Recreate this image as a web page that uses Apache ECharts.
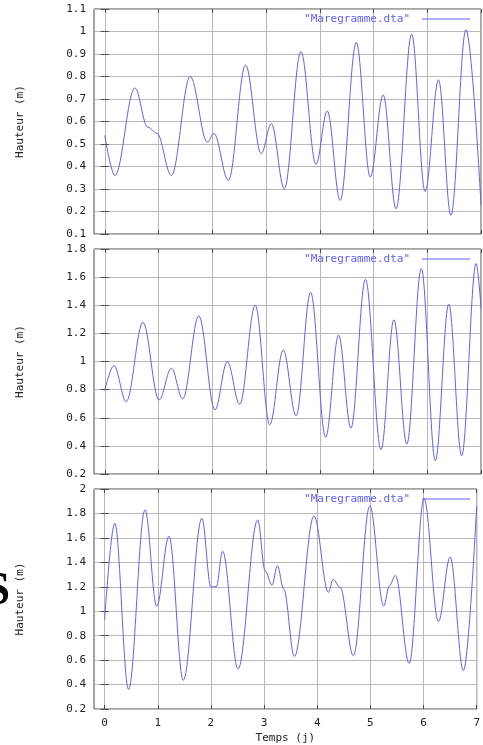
<!DOCTYPE html>
<html>
<head>
<meta charset="utf-8">
<script src="https://cdn.jsdelivr.net/npm/echarts@6/dist/echarts.min.js"></script>
<style>
  html, body { margin: 0; padding: 0; background: #fff; }
  #chart { width: 483px; height: 745px; }
</style>
</head>
<body>
<div id="chart"></div>
<script>
const t1 = [0, 0.19, 0.56, 0.80, 0.97, 1.24, 1.59, 1.91, 2.03, 2.30, 2.62, 2.91, 3.10, 3.34, 3.65, 3.93, 4.14, 4.38, 4.68, 4.94, 5.18, 5.42, 5.71, 5.96, 6.21, 6.44, 6.72, 7.0];
const h1 = [0.538, 0.36, 0.749, 0.575, 0.548, 0.36, 0.80, 0.508, 0.547, 0.338, 0.851, 0.457, 0.59, 0.301, 0.911, 0.41, 0.647, 0.249, 0.951, 0.353, 0.718, 0.212, 0.988, 0.289, 0.785, 0.183, 1.008, 0.23];

const t2 = [0, 0.17, 0.40, 0.71, 1.01, 1.24, 1.45, 1.75, 2.05, 2.28, 2.51, 2.80, 3.07, 3.32, 3.56, 3.83, 4.11, 4.35, 4.58, 4.85, 5.14, 5.38, 5.62, 5.89, 6.15, 6.40, 6.64, 6.91, 7.0];
const h2 = [0.793, 0.971, 0.715, 1.278, 0.727, 0.952, 0.734, 1.325, 0.656, 0.999, 0.696, 1.40, 0.55, 1.082, 0.614, 1.491, 0.462, 1.188, 0.526, 1.585, 0.373, 1.297, 0.413, 1.661, 0.295, 1.408, 0.33, 1.697, 1.38];

const t3 = [0, 0.19, 0.45, 0.76, 0.98, 1.21, 1.48, 1.83, 2.00, 2.10, 2.22, 2.51, 2.88, 3.02, 3.15, 3.25, 3.37, 3.57, 3.94, 4.21, 4.30, 4.43, 4.68, 4.99, 5.25, 5.36, 5.47, 5.73, 6.01, 6.28, 6.50, 6.75, 7.0];
const h3 = [0.93, 1.72, 0.36, 1.83, 1.04, 1.613, 0.435, 1.76, 1.20, 1.20, 1.49, 0.528, 1.747, 1.33, 1.213, 1.373, 1.18, 0.63, 1.78, 1.155, 1.26, 1.195, 0.635, 1.861, 1.043, 1.21, 1.293, 0.573, 1.92, 0.915, 1.443, 0.515, 1.86];

const xTicks = [0, 1, 2, 3, 4, 5, 6, 7];
const yMin = [0.1, 0.2, 0.2];
const yMax = [1.1, 1.8, 2];
const yStep = [0.1, 0.2, 0.2];

const seriesName = '"Maregramme.dta"';
const panels = [[t1, h1], [t2, h2], [t3, h3]];
const gridTops = [9, 249, 489];

const mono = 'DejaVu Sans Mono';
const blue = '#5f5fff';
const frame = '#484848';

const chart = echarts.init(document.getElementById('chart'));

const grid = [], xAxis = [], yAxis = [], series = [], legend = [];
panels.forEach(function (p, i) {
  grid.push({
    left: 94, right: 2, top: gridTops[i], height: 225,
    show: true, borderColor: frame, borderWidth: 1
  });
  const last = i === panels.length - 1;
  // bottom x axis
  xAxis.push({
    type: 'value', gridIndex: i, min: -0.2, max: 7, position: 'bottom',
    axisLine: { show: false },
    axisTick: { show: true, inside: true, length: 4, customValues: xTicks, lineStyle: { color: frame } },
    axisLabel: { show: last, customValues: xTicks, margin: 9, fontFamily: mono, fontSize: 11, color: '#222' },
    splitLine: { show: true, lineStyle: { color: '#b8b8b8', width: 1 } },
    name: last ? 'Temps (j)' : '', nameLocation: 'middle', nameGap: 24,
    nameTextStyle: { fontFamily: mono, fontSize: 11, color: '#222' }
  });
  // mirror ticks on top
  xAxis.push({
    type: 'value', gridIndex: i, min: -0.2, max: 7, position: 'top',
    axisLine: { show: false },
    axisTick: { show: true, inside: true, length: 4, customValues: xTicks, lineStyle: { color: frame } },
    axisLabel: { show: false }, splitLine: { show: false }
  });
  yAxis.push({
    type: 'value', gridIndex: i, min: yMin[i], max: yMax[i], interval: yStep[i], position: 'left',
    axisLine: { show: false },
    axisTick: { show: true, inside: true, length: 4, lineStyle: { color: frame } },
    axisLabel: { margin: 8, fontFamily: mono, fontSize: 11, color: '#222' },
    splitLine: { show: true, lineStyle: { color: '#b8b8b8', width: 1 } },
    name: 'Hauteur (m)', nameLocation: 'middle', nameRotate: 90, nameGap: 68,
    nameTextStyle: { fontFamily: mono, fontSize: 11, color: '#222' }
  });
  yAxis.push({
    type: 'value', gridIndex: i, min: yMin[i], max: yMax[i], interval: yStep[i], position: 'right',
    axisLine: { show: false },
    axisTick: { show: true, inside: true, length: 4, lineStyle: { color: frame } },
    axisLabel: { show: false }, splitLine: { show: false }
  });
  series.push({
    name: seriesName, type: 'line',
    xAxisIndex: i * 2, yAxisIndex: i * 2,
    data: p[0].map(function (t, k) { return [t, p[1][k]]; }),
    showSymbol: false, symbol: 'none',
    smooth: 0.36, smoothMonotone: 'x',
    lineStyle: { color: blue, width: 1 }, itemStyle: { color: blue },
    clip: true
  });
  legend.push({
    data: [seriesName], right: 13, top: gridTops[i] + 4, padding: 0,
    align: 'right', icon: 'rect', itemWidth: 48, itemHeight: 1,
    selectedMode: false,
    textStyle: { fontFamily: mono, fontSize: 11, color: blue, lineHeight: 12, padding: [0, 7, 0, 0] }
  });
});

chart.setOption({
  animation: false,
  backgroundColor: '#fff',
  grid: grid, xAxis: xAxis, yAxis: yAxis, series: series, legend: legend,
  graphic: [{
    type: 'text', x: 10, y: 592,
    style: { text: 'S', font: 'bold 46px "Liberation Serif"', fill: '#000', align: 'right', verticalAlign: 'middle' }
  }]
});
</script>
</body>
</html>
